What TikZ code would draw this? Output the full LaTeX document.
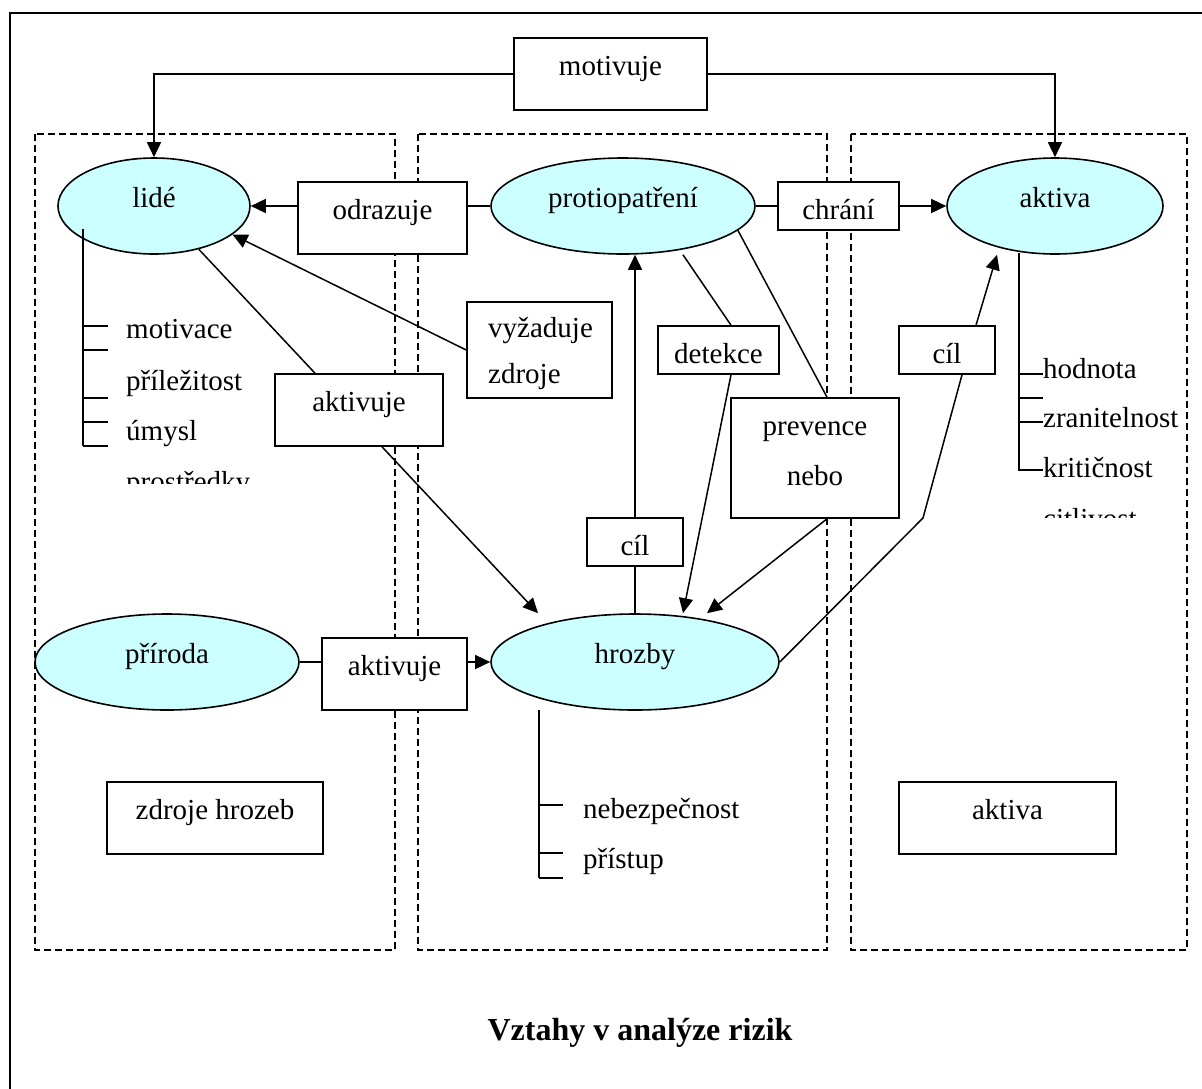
\documentclass[tikz,border=0pt]{standalone}
\usepackage{fontspec}
\setmainfont{Liberation Serif}
\usetikzlibrary{shapes.geometric,arrows.meta}
\definecolor{cyanfill}{HTML}{CCFFFF}
\tikzset{
  ell/.style={ellipse, draw, fill=cyanfill, line width=1.6pt, inner sep=0pt, text height=8pt, text depth=6pt},
  rbox/.style={draw, rectangle, fill=white, line width=1.6pt, inner sep=0pt},
  sbox/.style={rbox, text height=33pt, text depth=6pt},
  mbox/.style={rbox, text height=9pt, text depth=6pt},
  conn/.style={line width=1.5pt},
  arr/.style={conn, -{Triangle[length=15pt,width=14pt]}},
  zone/.style={draw, line width=1.5pt, dash pattern=on 7pt off 4pt},
  lbl/.style={anchor=base west, inner sep=0pt},
  clbl/.style={anchor=base, inner sep=0pt},
}
\begin{document}
\begin{tikzpicture}[x=1pt, y=-1pt, font=\fontsize{29pt}{34pt}\selectfont]
\useasboundingbox (0,0) rectangle (1202,1088);
\fill[white] (0,0) rectangle (1202,1088);
% outer frame (right and bottom sides are outside the picture)
\draw[line width=1.8pt] (10,1100) -- (10,13) -- (1215,13);
% zones
\draw[zone] (35,134) rectangle (395,950);
\draw[zone] (418,134) rectangle (827,950);
\draw[zone] (851,134) rectangle (1187,950);

% ellipses
\node[ell, minimum width=192pt, minimum height=96pt] (lide) at (154,206) {lidé};
\node[ell, minimum width=264pt, minimum height=96pt] (proti) at (623,206) {protiopatření};
\node[ell, minimum width=216pt, minimum height=96pt] (aktiva) at (1055,206) {aktiva};
\node[ell, minimum width=264pt, minimum height=96pt] (priroda) at (167,662) {příroda};
\node[ell, minimum width=288pt, minimum height=96pt] (hrozby) at (635,662) {hrozby};

% boxes
\node[mbox, minimum width=193pt, minimum height=72pt] (mot) at (610.5,74) {motivuje};
\node[mbox, minimum width=169pt, minimum height=72pt] (odraz) at (382.5,218) {odrazuje};
\node[sbox, minimum width=121pt, minimum height=48pt] (chrani) at (838.5,206) {chrání};
\node[rbox, minimum width=145pt, minimum height=96pt] (vyzad) at (539.5,350) {};
\node[mbox, minimum width=168pt, minimum height=72pt] (akt1) at (359,410) {aktivuje};
\node[sbox, minimum width=121pt, minimum height=48pt] (detekce) at (718.5,350) {detekce};
\node[rbox, minimum width=168pt, minimum height=120pt] (prev) at (815,458) {};
\node[sbox, minimum width=96pt, minimum height=48pt] (cil2) at (947,350) {cíl};
\node[sbox, minimum width=96pt, minimum height=48pt] (cil1) at (635,542) {cíl};
\node[mbox, minimum width=145pt, minimum height=72pt] (akt2) at (394.5,674) {aktivuje};
\node[mbox, minimum width=216pt, minimum height=72pt] (zdroje) at (215,818) {zdroje hrozeb};
\node[mbox, minimum width=217pt, minimum height=72pt] (aktb) at (1007.5,818) {aktiva};

% multi-line box texts
\node[lbl] (v1) at (488,337) {vyžaduje};
\node[lbl] (v2) at (488,383) {zdroje};
\node[clbl] (p1) at (815,435) {prevence};
\node[clbl] (p2) at (815,485) {nebo};

% connectors
\draw[arr] (mot.west) -| (lide.north);
\draw[arr] (mot.east) -| (aktiva.north);
\draw[conn] (proti.west) -- (proti.west -| odraz.east);
\draw[arr] (proti.west -| odraz.west) -- (lide.east);
\draw[conn] (proti.east) -- (chrani.west);
\draw[arr] (chrani.east) -- (aktiva.west);
\draw[arr] (vyzad.west) -- (lide.-20);
\draw[conn] (lide.-44) -- ([xshift=-44pt]akt1.north);
\draw[arr] ([xshift=23pt]akt1.south) -- ([xshift=-97pt]hrozby.north);
\draw[conn] (hrozby.north) -- (cil1.south);
\draw[arr] (cil1.north) -- (proti.south -| cil1.north);
\draw[conn] ([xshift=60pt]proti.south) -- ([xshift=12.5pt]detekce.north);
\draw[arr] ([xshift=12.5pt]detekce.south) -- ([xshift=48pt]hrozby.north);
\draw[conn] (proti.-12) -- ([xshift=12pt]prev.north);
\draw[arr] ([xshift=12pt]prev.south) -- ([xshift=72pt]hrozby.north);
\coordinate (bend) at (923,518);
\draw[conn] (hrozby.east) -- (bend) -- ([xshift=15pt]cil2.south);
\draw[arr] ([xshift=29pt]cil2.north) -- ([xshift=-58pt]aktiva.south);
\draw[conn] (priroda.east) -- (priroda.east -| akt2.west);
\draw[arr] (akt2.east |- hrozby.west) -- (hrozby.west);

% list under lide
\coordinate (ll) at (83,229);
\draw[conn] (ll) -- (83,446);
\foreach \yy in {326,350,398,422,446} \draw[conn] (83,\yy) -- (108,\yy);
\node[lbl] (l1) at (126,338) {motivace};
\node[lbl] (l2) at (126,390) {příležitost};
\node[lbl] (l3) at (126,440) {úmysl};
\begin{scope}
\clip (100,450) rectangle (400,483);
\node[lbl] (l4) at (126,491) {prostředky};
\end{scope}

% list under aktiva
\coordinate (al) at (1019,253);
\draw[conn] (al) -- (1019,470) -- (1043,470);
\foreach \yy in {374,398,422} \draw[conn] (1019,\yy) -- (1043,\yy);
\node[lbl] (a1) at (1043,378) {hodnota};
\node[lbl] (a2) at (1043,427) {zranitelnost};
\node[lbl] (a3) at (1043,477) {kritičnost};
\begin{scope}
\clip (1030,485) rectangle (1200,517);
\node[lbl] (a4) at (1043,528) {citlivost};
\end{scope}

% list under hrozby
\coordinate (hl) at (539,710);
\draw[conn] (hl) -- (539,878);
\foreach \yy in {805,853,878} \draw[conn] (539,\yy) -- (563,\yy);
\node[lbl] (h1) at (583,818) {nebezpečnost};
\node[lbl] (h2) at (583,868) {přístup};

% title
\node[clbl, font=\fontsize{32pt}{36pt}\selectfont\bfseries] (title) at (640,1040) {Vztahy v analýze rizik};
\end{tikzpicture}
\end{document}
